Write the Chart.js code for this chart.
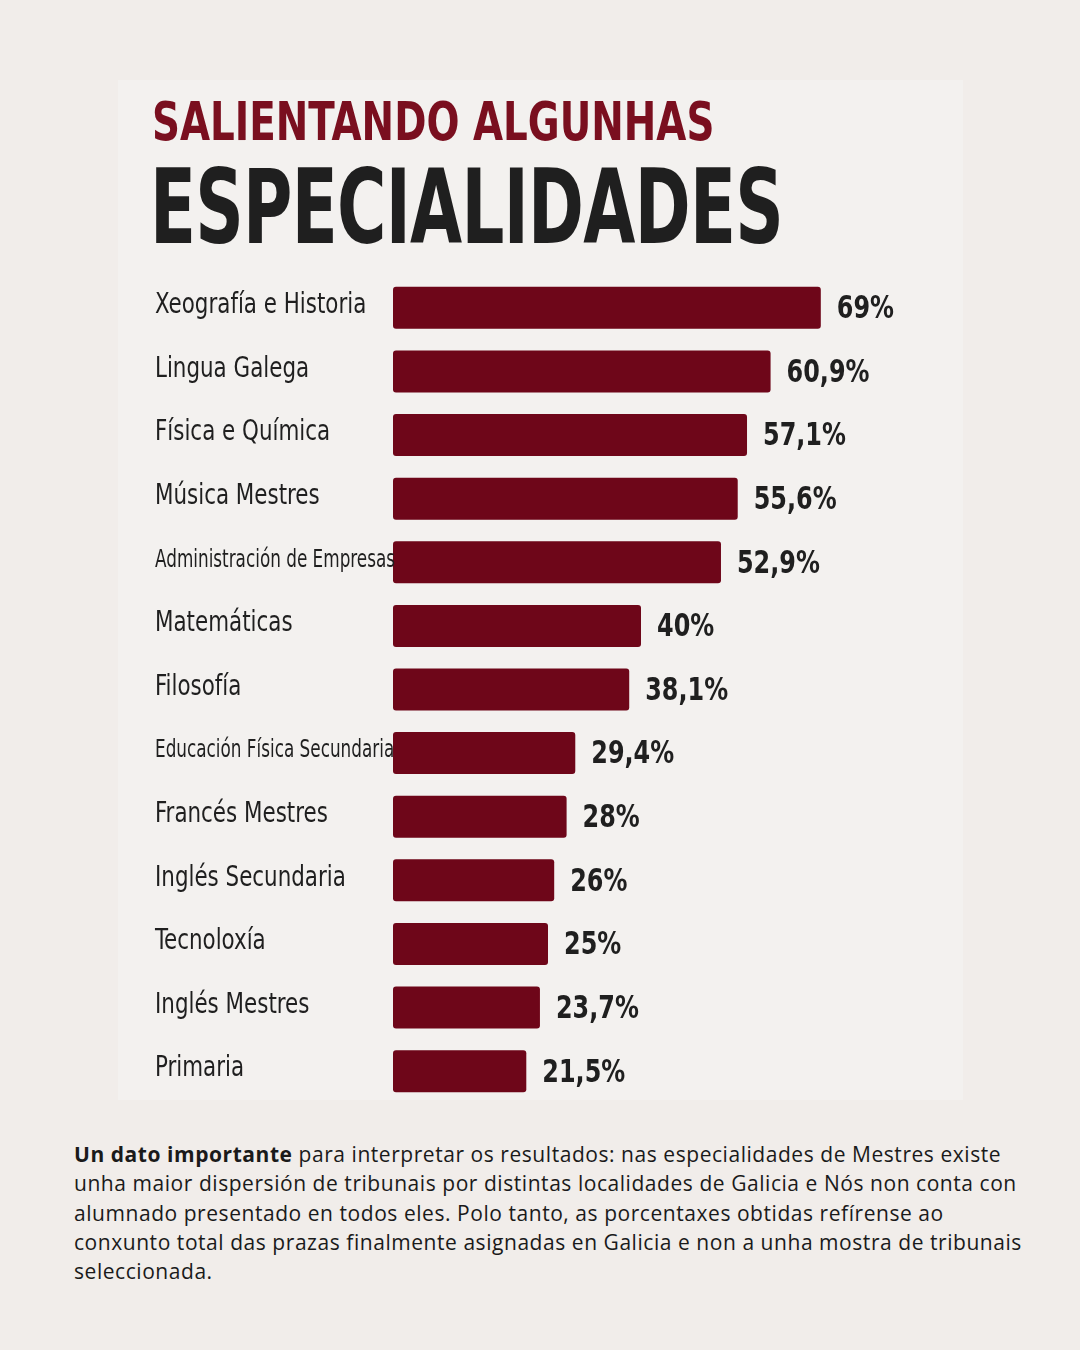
<!DOCTYPE html>
<html><head><meta charset="utf-8">
<script src="https://cdn.jsdelivr.net/npm/chart.js@4"></script>
<style>
body{margin:0;width:1080px;height:1350px;background:#f1edea;position:relative;overflow:hidden}
.card{position:absolute;left:118px;top:80px;width:845px;height:1020px;background:#f3f1ef}
.t1{position:absolute;left:152px;top:90px;font:bold 54px "DejaVu Sans Condensed","DejaVu Sans",sans-serif;color:#7a0f1f;transform:scaleX(0.8);transform-origin:left top;white-space:nowrap}
.t2{position:absolute;left:150px;top:146px;font:bold 104px "DejaVu Sans Condensed","DejaVu Sans",sans-serif;color:#1f1f1f;letter-spacing:-1px;transform:scaleX(0.72);transform-origin:left top;white-space:nowrap}
#wrap{position:absolute;left:140px;top:270px;width:820px;height:840px}
.note{position:absolute;left:74px;top:1140px;width:950px;font:21px "Open Sans",sans-serif;letter-spacing:0.55px;line-height:29.3px;color:#1a1a1a}
</style></head><body>
<div class="card"></div>
<div class="t1">SALIENTANDO ALGUNHAS</div>
<div class="t2">ESPECIALIDADES</div>
<div id="wrap"><canvas id="c"></canvas></div>
<div class="note"><b>Un dato importante</b> para interpretar os resultados: nas especialidades de Mestres existe unha maior dispersión de tribunais por distintas localidades de Galicia e Nós non conta con alumnado presentado en todos eles. Polo tanto, as porcentaxes obtidas refírense ao conxunto total das prazas finalmente asignadas en Galicia e non a unha mostra de tribunais seleccionada.</div>
<script>
const categories = ["Xeografía e Historia","Lingua Galega","Física e Química","Música Mestres","Administración de Empresas","Matemáticas","Filosofía","Educación Física Secundaria","Francés Mestres","Inglés Secundaria","Tecnoloxía","Inglés Mestres","Primaria"];
const values = [69,60.9,57.1,55.6,52.9,40,38.1,29.4,28,26,25,23.7,21.5];
const valueLabels = ["69%","60,9%","57,1%","55,6%","52,9%","40%","38,1%","29,4%","28%","26%","25%","23,7%","21,5%"];
const fam = '"DejaVu Sans Condensed","DejaVu Sans",sans-serif';

// draw horizontally squeezed text (no narrow font installed)
function squeezed(ctx, text, x, y, sx) {
  ctx.save();
  ctx.translate(x, y);
  ctx.scale(sx, 1);
  ctx.fillText(text, 0, 0);
  ctx.restore();
}

const labelPlugin = {
  id: "labels",
  afterDatasetsDraw(chart) {
    const ctx = chart.ctx;
    const meta = chart.getDatasetMeta(0);
    ctx.save();
    ctx.fillStyle = "#1f1f1f";
    ctx.textBaseline = "middle";
    meta.data.forEach((bar, i) => {
      const small = (i === 4 || i === 7);
      ctx.font = (small ? "24px " : "28px ") + fam;
      squeezed(ctx, categories[i], 15, bar.y - 2, small ? 0.78 : 0.85);
      ctx.font = "bold 32px " + fam;
      squeezed(ctx, valueLabels[i], bar.x + 16, bar.y + 2, 0.83);
    });
    ctx.restore();
  }
};

new Chart(document.getElementById("c"), {
  type: "bar",
  data: {
    labels: categories,
    datasets: [{
      data: values,
      backgroundColor: "#6e0619",
      borderRadius: 3,
      borderSkipped: false,
      barPercentage: 0.66,
      categoryPercentage: 1
    }]
  },
  options: {
    indexAxis: "y",
    responsive: true,
    maintainAspectRatio: false,
    animation: false,
    layout: { padding: { top: 6, bottom: 7, right: 9 } },
    scales: {
      x: { min: 0, max: 90, display: false },
      y: {
        grid: { display: false },
        border: { display: false },
        afterFit: (s) => { s.width = 253; },
        ticks: { display: false }
      }
    },
    plugins: { legend: { display: false }, tooltip: { enabled: false } }
  },
  plugins: [labelPlugin]
});
</script>
</body></html>
